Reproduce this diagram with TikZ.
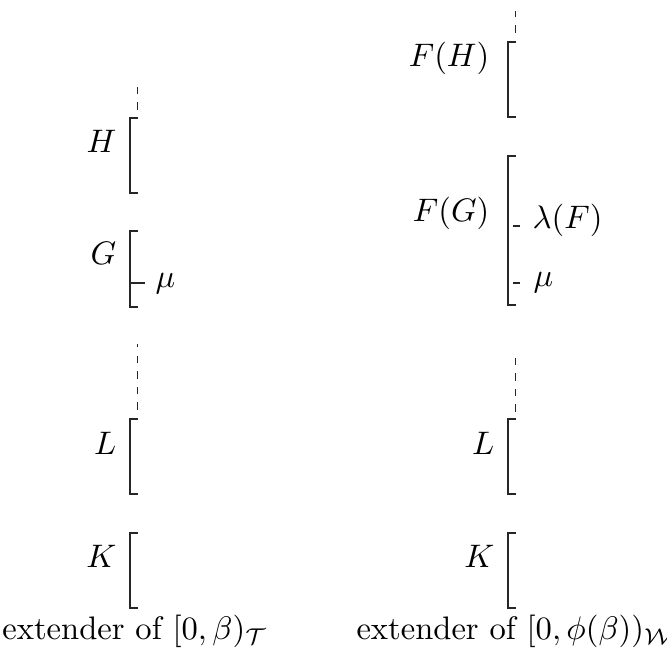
\documentclass[tikz,border=0pt]{standalone}
\begin{document}
\begin{tikzpicture}[x=0.307pt,y=-0.307pt,
  lbl/.style={inner sep=0pt,anchor=base east},
  side/.style={inner sep=0pt,anchor=base west},
  caption/.style={inner sep=0pt,anchor=base},
  brk/.style={line width=0.4pt,black!85},
  ext/.style={line width=0.4pt,black!85,dash pattern=on 2.3pt off 2.5pt}]
\useasboundingbox (0,0) rectangle (667,651);
% ---------- left column ----------
\draw[brk] (137.5,118) -- (130,118) -- (130,193) -- (137.5,193);
\draw[brk] (137.5,231) -- (130,231) -- (130,307) -- (137.5,307);
\draw[brk] (130,283) -- (145,283);
\draw[brk] (137.5,419) -- (130,419) -- (130,494) -- (137.5,494);
\draw[brk] (137.5,533) -- (130,533) -- (130,608) -- (137.5,608);
\draw[ext] (137.5,110) -- (137.5,84);
\draw[ext] (137.5,410) -- (137.5,344);
\node[lbl] (H) at (117,153) {$H$};
\node[lbl] (G) at (117,265) {$G$};
\node[side] (mu1) at (155,288) {$\mu$};
\node[lbl] (L1) at (117,455) {$L$};
\node[lbl] (K1) at (117,568) {$K$};
\node[caption] (t1) at (135,640) {extender of $[0,\beta)_{\mathcal{T}}$};
% ---------- right column ----------
\draw[brk] (515.5,42) -- (508,42) -- (508,117) -- (515.5,117);
\draw[brk] (515.5,156) -- (508,156) -- (508,305) -- (515.5,305);
\draw[brk] (513,226) -- (520,226);
\draw[brk] (513,283) -- (520,283);
\draw[brk] (515.5,419) -- (508,419) -- (508,494) -- (515.5,494);
\draw[brk] (515.5,533) -- (508,533) -- (508,608) -- (515.5,608);
\draw[ext] (515.5,33) -- (515.5,11);
\draw[ext] (515.5,412) -- (515.5,357);
\node[lbl] (FH) at (490,67) {$F(H)$};
\node[lbl] (FG) at (490,222) {$F(G)$};
\node[side] (lam) at (532,229) {$\lambda(F)$};
\node[side] (mu2) at (533,287) {$\mu$};
\node[lbl] (L2) at (495,455) {$L$};
\node[lbl] (K2) at (495,568) {$K$};
\node[caption] (t2) at (515,640) {extender of $[0,\phi(\beta))_{\mathcal{W}}$};
\end{tikzpicture}
\end{document}
